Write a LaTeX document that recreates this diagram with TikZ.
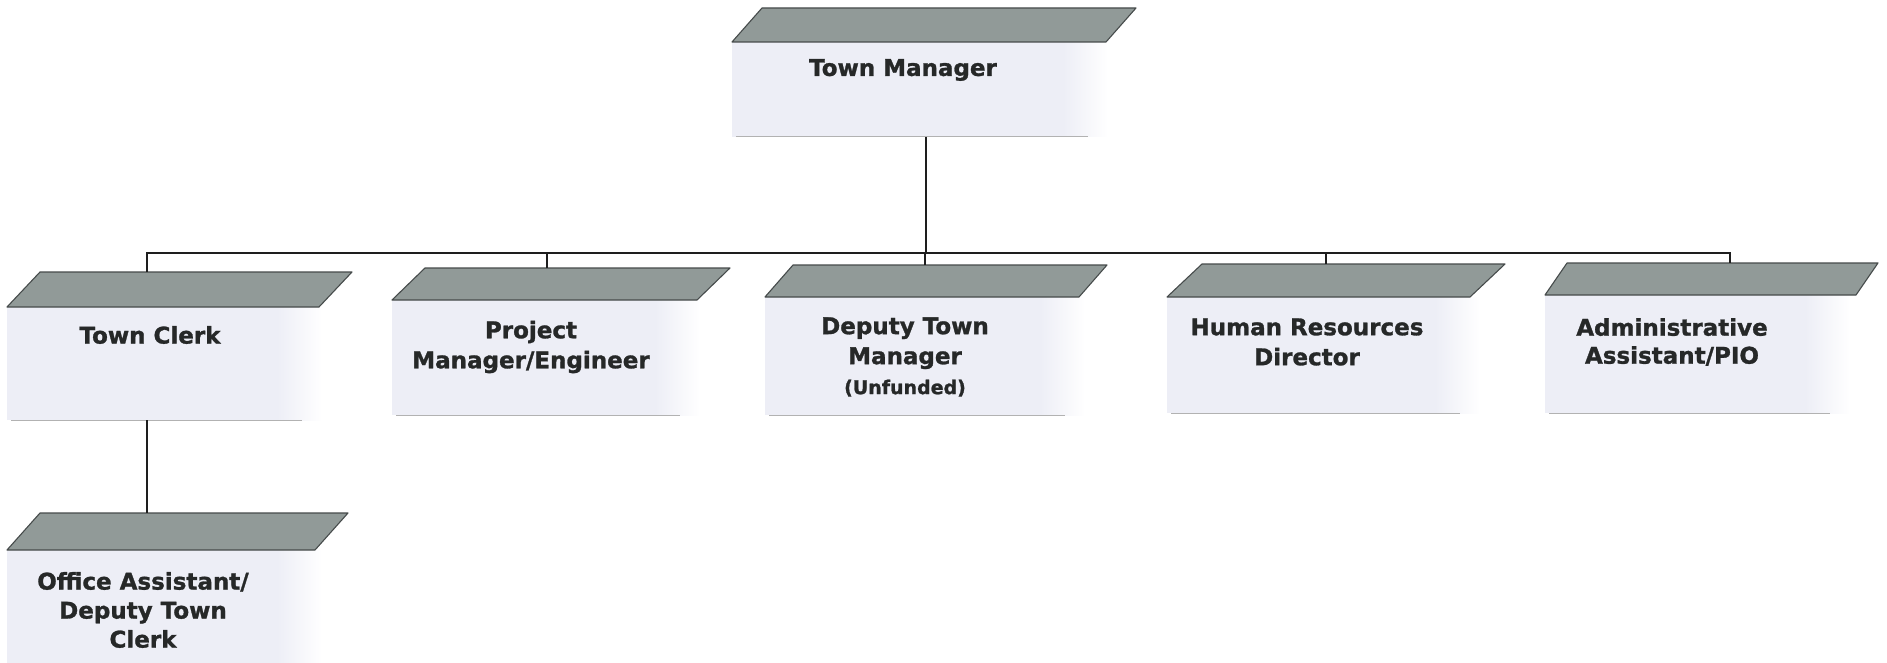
\documentclass[tikz,border=0pt]{standalone}
\usepackage{fontspec}
\newfontfamily\orgfont{DejaVu Sans}[BoldFeatures={FakeBold=1.2}]
\definecolor{boxfill}{RGB}{237,238,246}
\definecolor{parafill}{RGB}{145,154,152}
\definecolor{paraline}{RGB}{70,75,75}
\definecolor{textc}{RGB}{38,40,40}
\definecolor{connc}{RGB}{30,30,30}
\tikzset{
  frontbox/.style={rectangle, fill=boxfill, draw=none, inner sep=0pt, outer sep=0pt},
  paratop/.style={fill=parafill, draw=paraline, line width=1.1pt, line join=round},
  bottomline/.style={draw=black!30, line width=1pt},
  lbl/.style={text=textc, align=center, inner sep=0pt, font={\orgfont\bfseries\fontsize{23}{27}\selectfont}},
  lskip/.style={font={\orgfont\bfseries\fontsize{23}{#1}\selectfont}},
  conn/.style={draw=connc, line width=1.5pt}
}
% name, x1, x2, ytop, ybot, paratop y, para top-left x, para top-right x
\newcommand{\orgbox}[8]{%
  \pgfmathsetmacro{\obW}{#3-#2}%
  \pgfmathsetmacro{\obH}{#5-#4}%
  \node[frontbox, minimum width=\obW pt, minimum height=\obH pt, anchor=north west] (#1) at (#2,#4) {};
  \shade[left color=boxfill, right color=white] (#3-45,#4) rectangle (#3,#5);
  \draw[bottomline] (#2+4,#5) -- (#3-20,#5);
  \draw[paratop] (#2,#4) -- (#7,#6) -- (#8,#6) -- (#8-#7+#2,#4) -- cycle;
}
\begin{document}
\begin{tikzpicture}[x=1pt,y=-1pt]
\useasboundingbox[fill=white] (0,0) rectangle (1887,663);

\orgbox{tmb}{732}{1108}{42}{137}{8}{762}{1136}
\orgbox{tcb}{7}{322}{307}{420}{272}{40}{352}
\orgbox{oab}{7}{322}{550}{680}{513}{40}{348}
\orgbox{pmb}{392}{700}{300}{415}{268}{425}{730}
\orgbox{dtb}{765}{1085}{297}{415}{265}{793}{1107}
\orgbox{hrb}{1167}{1480}{297}{413}{264}{1202}{1505}
\orgbox{adb}{1545}{1850}{295}{413}{263}{1567}{1878}

% connector end points
\coordinate (bus) at (0,253);
\coordinate (tm-bot) at (926,137);
\coordinate (tc-top) at (147,272);
\coordinate (tc-bot) at (147,420);
\coordinate (oa-top) at (147,513);
\coordinate (pm-top) at (547,268);
\coordinate (dt-top) at (925,265);
\coordinate (hr-top) at (1326,264);
\coordinate (ad-top) at (1730,263);

\draw[conn] (tm-bot) -- (tm-bot |- bus);
\draw[conn] (tc-top) -- (tc-top |- bus) -- (ad-top |- bus) -- (ad-top);
\draw[conn] (pm-top) -- (pm-top |- bus);
\draw[conn] (dt-top) -- (dt-top |- bus);
\draw[conn] (hr-top) -- (hr-top |- bus);
\draw[conn] (tc-bot) -- (oa-top);

% labels
\node[lbl] (tmt) at (903,70) {Town Manager};
\node[lbl] (tct) at (150,335) {Town Clerk};
\node[lbl, lskip=30] (pmt) at (531,347) {Project\\Manager/Engineer};
\node[lbl, lskip=30] (dtt) at (905,357) {Deputy Town\\Manager\\{\fontsize{19}{30}\selectfont (Unfunded)}};
\node[lbl, lskip=30] (hrt) at (1307,342) {Human Resources\\Director};
\node[lbl, lskip=28] (adt) at (1672,342) {Administrative\\Assistant/PIO};
\node[lbl, lskip=29] (oat) at (143,610) {Office Assistant/\\Deputy Town\\Clerk};
\end{tikzpicture}
\end{document}
